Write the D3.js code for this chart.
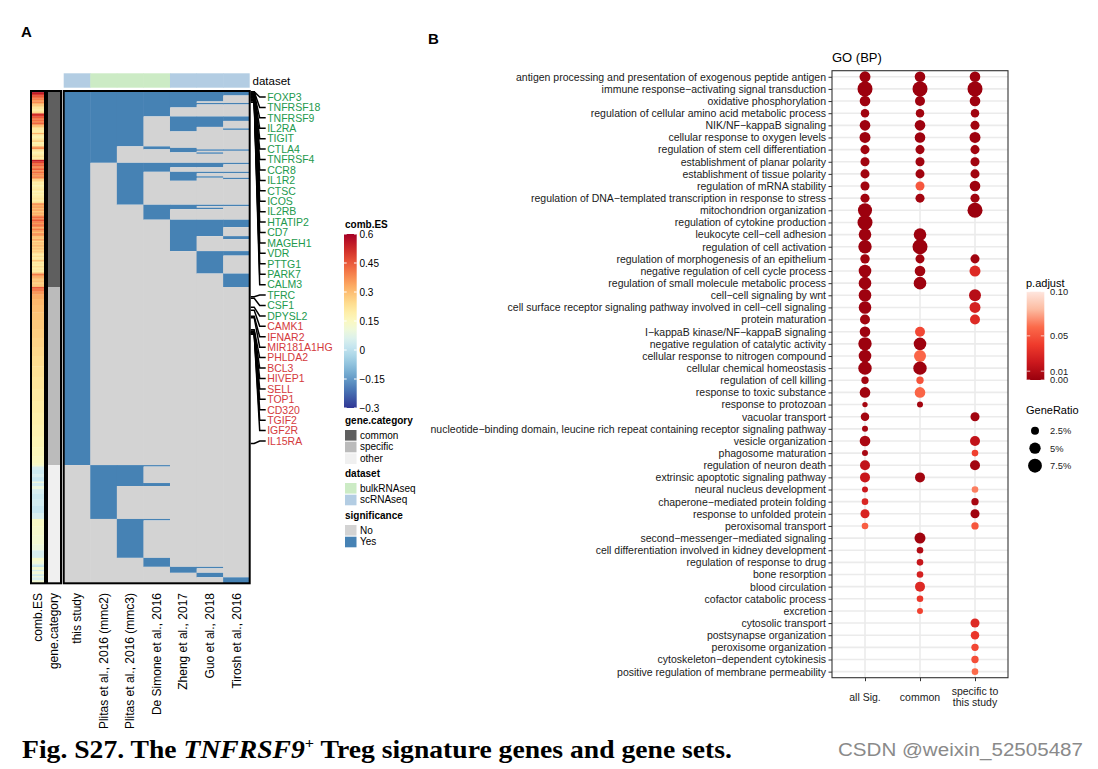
<!DOCTYPE html>
<html>
<head>
<meta charset="utf-8">
<script src="https://cdn.jsdelivr.net/npm/d3@7/dist/d3.min.js"></script>
<style>
html,body{margin:0;padding:0;background:#fff;}
svg{display:block;font-family:"Liberation Sans",Arial,Helvetica,sans-serif;}
</style>
</head>
<body>
<svg id="chart" width="1098" height="769"></svg>
<script>
// ================= Panel A data =================
const datasets = ["this study","Plitas et al., 2016 (mmc2)","Plitas et al., 2016 (mmc3)","De Simone et al., 2016","Zheng et al., 2017","Guo et al., 2018","Tirosh et al., 2016"];
const datasetType = ["scRNAseq","bulkRNAseq","bulkRNAseq","bulkRNAseq","scRNAseq","scRNAseq","scRNAseq"];
const datasetTypes = ["bulkRNAseq","scRNAseq"];
const significanceLevels = ["No","Yes"];
const geneCategories = ["common","specific","other"];
const categoryRuns = [["common",131],["specific",119],["other",79]];
// significance pattern (one char per dataset, 1 = Yes) and number of genes with it, top to bottom
const sigRuns = [
 ["1111111",3],["1111110",4],["1111100",1],["1111111",1],["1111100",2],
 ["1111000",6],
 ["1110111",3],["1110110",4],["1110100",1],["1110101",1],["1110100",1],
 ["1110000",10],
 ["1101000",1],["1101100",1],["1100111",1],["1100100",1],["1100010",1],["1100000",6],
 ["1011111",1],["1011110",2],["1011000",3],["1010111",1],["1010100",2],["1010110",1],["1010101",1],["1010100",1],["1010000",16],
 ["1001111",1],["1001100",1],["1001110",1],["1001000",7],
 ["1000111",5],["1000110",6],["1000101",2],["1000100",8],
 ["1000011",3],["1000010",12],["1000001",9],
 ["1000000",119],
 ["0111000",1],["0110000",11],["0111000",2],["0100000",22],
 ["0011000",1],["0010000",25],["0001000",6],
 ["0000110",1],["0000100",3],["0000010",3],["0000001",4]
];
// comb.ES of the common genes (one per row)
const esCommon = [0.58,0.55,0.5, 0.45,0.42,0.4, 0.35,0.38,0.32, 0.28,0.25,0.22,0.2,0.22,0.25,
 0.52,0.5, 0.45,0.4,0.42,0.38,0.44,0.36,0.3,
 0.25,0.22,0.2,0.2,0.32,0.2,0.18,0.2,0.22,0.28,0.18,0.2,0.2,
 0.35,0.38, 0.22,0.2,0.18,0.2,0.24,0.2,0.22, 0.55,0.5,
 0.42,0.45,0.38,0.4,0.44,0.36,0.42,0.38,0.35,0.4,0.33,
 0.26,0.22,0.2,0.2,0.18,0.2,0.22,0.2,0.18,0.2,0.19,0.2,0.22,0.21,0.2,0.24,
 0.38,0.32,0.36,0.3,0.35,0.28,0.33,0.3,0.36,
 0.42,0.38,0.45,0.4,0.36,0.42,0.38,0.33,0.4,0.36,0.3,0.38,0.35,
 0.3,0.28,0.35,0.25,0.3,0.27,0.32,0.26,0.3,0.25,0.28,
 0.22,0.2,0.24,0.2,0.22,0.3,0.2,0.22,0.2,0.25,0.2,0.22,0.2,0.26,
 0.4,0.36,0.32,0.3,0.28,0.3,0.26,0.28,0.3];
// comb.ES of specific and other genes as [value, number of genes]
const esSpecificRuns = [[0.45,1],[0.4,2],[0.36,2],[0.33,3],[0.31,4],[0.3,5],[0.29,5],[0.28,6],[0.27,6],[0.26,6],[0.25,6],[0.24,7],[0.23,7],[0.22,8],[0.21,8],[0.2,8],[0.19,8],[0.18,8],[0.17,7],[0.16,6],[0.15,5],[0.14,1]];
const esOtherRuns = [[0.12,1],[0.05,2],[0.03,3],[0.05,2],[0.02,3],[0.1,1],[0.04,2],
 [0.1,2],[0.05,3],[0.03,4],[0.04,4],[0.02,5],[0.05,4],
 [0.14,5],[0.13,6],[0.12,6],[0.1,4],[0.05,5],
 [0.13,2],[0.11,2],[0.06,1],[0.0,1],
 [0.12,2],[0.04,1],[0.11,2],[0.02,1],[0.1,1],
 [0.05,2],[0.12,2]];
const esBreaks = [0.6,0.45,0.3,0.15,0,-0.15,-0.3];
// marked genes, their heatmap row and label colour group
const markGenes = ["FOXP3","TNFRSF18","TNFRSF9","IL2RA","TIGIT","CTLA4","TNFRSF4","CCR8","IL1R2","CTSC","ICOS","IL2RB","HTATIP2","CD7","MAGEH1","VDR","PTTG1","PARK7","CALM3","TFRC","CSF1","DPYSL2","CAMK1","IFNAR2","MIR181A1HG","PHLDA2","BCL3","HIVEP1","SELL","TOP1","CD320","TGIF2","IGF2R","IL15RA"];
const markRows = [0,0,1,1,1,2,2,2,3,3,3,4,4,4,5,5,6,6,7,137,138,144,146,150,151,159,160,160,161,161,161,162,162,235];
const markGroup = ["g","g","g","g","g","g","g","g","g","g","g","g","g","g","g","g","g","g","g","g","g","g","r","r","r","r","r","r","r","r","r","r","r","r"];

// ================= Panel B data =================
const goTerms = ["antigen processing and presentation of exogenous peptide antigen","immune response−activating signal transduction","oxidative phosphorylation","regulation of cellular amino acid metabolic process","NIK/NF−kappaB signaling","cellular response to oxygen levels","regulation of stem cell differentiation","establishment of planar polarity","establishment of tissue polarity","regulation of mRNA stability","regulation of DNA−templated transcription in response to stress","mitochondrion organization","regulation of cytokine production","leukocyte cell−cell adhesion","regulation of cell activation","regulation of morphogenesis of an epithelium","negative regulation of cell cycle process","regulation of small molecule metabolic process","cell−cell signaling by wnt","cell surface receptor signaling pathway involved in cell−cell signaling","protein maturation","I−kappaB kinase/NF−kappaB signaling","negative regulation of catalytic activity","cellular response to nitrogen compound","cellular chemical homeostasis","regulation of cell killing","response to toxic substance","response to protozoan","vacuolar transport","nucleotide−binding domain, leucine rich repeat containing receptor signaling pathway","vesicle organization","phagosome maturation","regulation of neuron death","extrinsic apoptotic signaling pathway","neural nucleus development","chaperone−mediated protein folding","response to unfolded protein","peroxisomal transport","second−messenger−mediated signaling","cell differentiation involved in kidney development","regulation of response to drug","bone resorption","blood circulation","cofactor catabolic process","excretion","cytosolic transport","postsynapse organization","peroxisome organization","cytoskeleton−dependent cytokinesis","positive regulation of membrane permeability"];
const goGroups = ["all Sig.","common","specific to\nthis study"];
// GeneRatio (%) and p.adjust per group, null = not significant
const grAll = [4.7,8.8,4.4,2.8,4.4,4.7,3.2,3.2,3.2,3.2, 3.2,7.7,8.8,6.2,7.0,3.5,6.2,6.2,6.2,6.2, 3.9,4.4,7.0,6.2,7.0,2.1,4.4,1.1,2.8,1.4, 4.4,1.4,3.9,3.9,1.4,1.7,3.2,1.7,null,null, null,null,null,null,null,null,null,null,null,null];
const padjAll = [0.002,0.001,0.002,0.003,0.002,0.002,0.003,0.003,0.003,0.003, 0.003,0.001,0.001,0.002,0.001,0.003,0.002,0.002,0.002,0.002, 0.003,0.002,0.001,0.002,0.002,0.004,0.003,0.005,0.004,0.005, 0.007,0.006,0.016,0.019,0.02,0.028,0.027,0.055,null,null, null,null,null,null,null,null,null,null,null,null];
const grCommon = [4.4,8.8,3.9,2.8,4.4,4.4,3.2,3.2,3.2,3.2, 3.2,null,null,6.2,8.8,3.2,4.4,6.2,null,null, null,3.9,6.2,5.6,7.0,2.1,4.4,1.4,null,null, null,null,null,3.9,null,null,null,null,4.7,1.7, 1.7,1.7,3.9,1.7,1.4,null,null,null,null,null];
const padjCommon = [0.002,0.001,0.002,0.003,0.002,0.002,0.003,0.003,0.003,0.052, 0.004,null,null,0.002,0.001,0.003,0.003,0.002,null,null, null,0.045,0.002,0.058,0.002,0.05,0.058,0.004,null,null, null,null,null,0.004,null,null,null,null,0.003,0.01, 0.018,0.025,0.03,0.038,0.043,null,null,null,null,null];
const grSpecific = [4.4,8.8,4.4,2.8,3.2,4.7,3.2,3.2,3.2,4.4, 3.2,8.8,null,null,null,3.2,4.7,null,5.6,4.7, 3.9,null,null,null,null,null,null,null,3.2,null, 3.9,1.7,3.9,null,1.7,2.1,3.2,2.1,null,null, null,null,null,null,null,3.2,2.8,2.1,2.1,1.7];
const padjSpecific = [0.002,0.001,0.002,0.003,0.003,0.002,0.003,0.003,0.003,0.002, 0.003,0.001,null,null,null,0.003,0.03,null,0.012,0.025, 0.03,null,null,null,null,null,null,null,0.003,null, 0.016,0.042,0.004,null,0.065,0.006,0.003,0.052,null,null, null,null,null,null,null,0.03,0.037,0.045,0.048,0.06];
const padjBreaks = [0.10,0.05,0.01,0.00];
const grBreaks = [2.5,5,7.5];

// ================= drawing =================
const svg = d3.select("#chart");
svg.append("rect").attr("width",1098).attr("height",769).attr("fill","#fff");

const expandRuns = runs => runs.flatMap(([v,n]) => Array(n).fill(v));
function runsOf(arr){
  const out=[]; let s=0;
  for(let i=1;i<=arr.length;i++){ if(i===arr.length || arr[i]!==arr[s]){ out.push({start:s,end:i,v:arr[s]}); s=i; } }
  return out;
}
const sigRows = expandRuns(sigRuns);
const catRows = expandRuns(categoryRuns);
const esRows = esCommon.concat(expandRuns(esSpecificRuns), expandRuns(esOtherRuns));
const N = sigRows.length;

// ---- Panel A scales
const hmTop = 91, hmBottom = 583.3;
const yRow = d3.scaleBand().domain(d3.range(N)).range([hmTop, hmBottom]);
const bw = yRow.bandwidth();
const xData = d3.scaleBand().domain(datasets).range([63.7, 249.7]);
const esColor = d3.scaleSequential(d3.interpolateRdYlBu).domain([0.6,-0.3]);
const catColor = d3.scaleOrdinal().domain(geneCategories).range(["#5f5f5f","#bbbbbb","#f0f0f0"]);
const sigColor = d3.scaleOrdinal().domain(significanceLevels).range(["#d3d3d3","#4682b4"]);
const dsColor = d3.scaleOrdinal().domain(datasetTypes).range(["#ccebc5","#b3cde3"]);
const esX = [31, 45], catX = [47, 61];

const gA = svg.append("g");
gA.append("text").attr("x",21).attr("y",37).attr("font-weight","bold").attr("font-size",15).text("A");

// comb.ES column
gA.append("g").selectAll("rect").data(runsOf(esRows)).join("rect")
  .attr("x",esX[0]).attr("width",esX[1]-esX[0])
  .attr("y",d=>yRow(d.start)).attr("height",d=>(d.end-d.start)*bw+0.3)
  .attr("fill",d=>esColor(d.v));
// gene.category column
gA.append("g").selectAll("rect").data(runsOf(catRows)).join("rect")
  .attr("x",catX[0]).attr("width",catX[1]-catX[0])
  .attr("y",d=>yRow(d.start)).attr("height",d=>(d.end-d.start)*bw)
  .attr("fill",d=>catColor(d.v));
// main heatmap
datasets.forEach((ds,j)=>{
  const vals = sigRows.map(p => p[j]==="1" ? "Yes" : "No");
  gA.append("g").selectAll("rect").data(runsOf(vals)).join("rect")
    .attr("x",xData(ds)).attr("width",xData.bandwidth()+(j<datasets.length-1?0.5:0))
    .attr("y",d=>yRow(d.start)).attr("height",d=>(d.end-d.start)*bw)
    .attr("fill",d=>sigColor(d.v));
});
// dataset annotation
gA.append("g").selectAll("rect").data(datasets).join("rect")
  .attr("x",d=>xData(d)).attr("width",(d,i)=>xData.bandwidth()+(i<datasets.length-1?0.5:0))
  .attr("y",73.3).attr("height",14.4)
  .attr("fill",(d,i)=>dsColor(datasetType[i]));
gA.append("text").attr("x",252.5).attr("y",84.5).attr("font-size",11.5).attr("fill","#000").text("dataset");
// borders
[[esX[0],esX[1]],[catX[0],catX[1]],[xData.range()[0],xData.range()[1]]].forEach(([a,b])=>{
  gA.append("rect").attr("x",a).attr("y",hmTop).attr("width",b-a).attr("height",hmBottom-hmTop)
    .attr("fill","none").attr("stroke","#000").attr("stroke-width",2);
});
// bottom column names
const colNames = [{t:"comb.ES",x:(esX[0]+esX[1])/2},{t:"gene.category",x:(catX[0]+catX[1])/2}]
  .concat(datasets.map(d=>({t:d,x:xData(d)+xData.bandwidth()/2})));
gA.append("g").selectAll("text").data(colNames).join("text")
  .attr("transform",d=>`translate(${d.x},593) rotate(-90)`)
  .attr("text-anchor","end").attr("dy","0.35em").attr("font-size",12).attr("fill","#000")
  .text(d=>d.t);
// marks
const markY = d3.scalePoint().domain(markGenes).range([97,441]);
const hmRight = xData.range()[1]+1;
gA.append("g").selectAll("path").data(markGenes).join("path")
  .attr("d",(g,i)=>{const yr=yRow(markRows[i])+bw/2, yl=markY(g);
    return `M${hmRight},${yr}H${hmRight+3.5}L${hmRight+9},${yl}H${hmRight+15}`;})
  .attr("fill","none").attr("stroke","#000").attr("stroke-width",1.5);
gA.append("g").selectAll("text").data(markGenes).join("text")
  .attr("x",hmRight+16.5).attr("y",g=>markY(g)).attr("dy","0.36em")
  .attr("font-size",10.5).attr("fill",(g,i)=>markGroup[i]==="g"?"#22994d":"#d43a3d")
  .text(g=>g);

// ---- Panel A legends
const lg = svg.append("g").attr("font-size",10);
lg.append("text").attr("x",345).attr("y",228).attr("font-weight","bold").text("comb.ES");
const esL = d3.scaleLinear().domain([0.6,-0.3]).range([234,408]);
const defs = svg.append("defs");
const gradES = defs.append("linearGradient").attr("id","gES").attr("x1",0).attr("y1",0).attr("x2",0).attr("y2",1);
d3.range(0,1.0001,0.05).forEach(t=>gradES.append("stop").attr("offset",t).attr("stop-color",esColor(0.6-0.9*t)));
lg.append("rect").attr("x",344).attr("y",esL(0.6)).attr("width",12.7).attr("height",esL(-0.3)-esL(0.6)).attr("fill","url(#gES)");
esBreaks.forEach(b=>{
  lg.append("line").attr("x1",344).attr("x2",346.7).attr("y1",esL(b)).attr("y2",esL(b)).attr("stroke","#fff").attr("stroke-width",1);
  lg.append("line").attr("x1",354).attr("x2",356.7).attr("y1",esL(b)).attr("y2",esL(b)).attr("stroke","#fff").attr("stroke-width",1);
  lg.append("text").attr("x",359.5).attr("y",esL(b)).attr("dy","0.35em").text(String(b).replace("-","−"));
});
function discreteLegend(title, y0, items, color){
  lg.append("text").attr("x",345).attr("y",y0).attr("font-weight","bold").text(title);
  items.forEach((it,i)=>{
    const cy = y0+11+i*11.7;
    lg.append("rect").attr("x",345).attr("y",cy-5).attr("width",11.5).attr("height",10.6).attr("fill",color(it));
    lg.append("text").attr("x",360).attr("y",cy).attr("dy","0.35em").text(it);
  });
}
discreteLegend("gene.category",424,geneCategories,catColor);
discreteLegend("dataset",477,datasetTypes,dsColor);
discreteLegend("significance",519,significanceLevels,sigColor);

// ================= Panel B =================
const gB = svg.append("g");
gB.append("text").attr("x",428).attr("y",44).attr("font-weight","bold").attr("font-size",15).text("B");
const px0=832, px1=1008, py0=70.7, py1=677.7;
const yGo = d3.scalePoint().domain(goTerms).range([py0,py1]).padding(0.5);
const xGo = d3.scalePoint().domain(goGroups).range([px0,px1]).padding(0.6);
const rScale = d3.scaleSqrt().domain([0,10]).range([0,8]);
const pColor = d3.scaleLinear().domain([0,0.02,0.04,0.06,0.08,0.1])
  .range(["#99000d","#cb181d","#ef3b2c","#fb6a4a","#fcbba1","#fee6de"]);

gB.append("text").attr("x",px0).attr("y",61.5).attr("font-size",13).text("GO (BP)");
gB.append("rect").attr("x",px0).attr("y",py0).attr("width",px1-px0).attr("height",py1-py0).attr("fill","#fff");
gB.append("g").selectAll("line").data(goTerms).join("line")
  .attr("x1",px0).attr("x2",px1).attr("y1",d=>yGo(d)).attr("y2",d=>yGo(d))
  .attr("stroke","#ebebeb").attr("stroke-width",1.6);
gB.append("g").selectAll("line").data(goGroups).join("line")
  .attr("y1",py0).attr("y2",py1).attr("x1",d=>xGo(d)).attr("x2",d=>xGo(d))
  .attr("stroke","#ebebeb").attr("stroke-width",1.6);

const grByGroup = [grAll,grCommon,grSpecific], pByGroup = [padjAll,padjCommon,padjSpecific];
const dots = [];
goGroups.forEach((g,gi)=>goTerms.forEach((t,ti)=>{
  if(grByGroup[gi][ti]!=null) dots.push({g,t,gr:grByGroup[gi][ti],p:pByGroup[gi][ti]});
}));
gB.append("g").selectAll("circle").data(dots).join("circle")
  .attr("cx",d=>xGo(d.g)).attr("cy",d=>yGo(d.t)).attr("r",d=>rScale(d.gr)).attr("fill",d=>pColor(d.p));
gB.append("rect").attr("x",px0).attr("y",py0).attr("width",px1-px0).attr("height",py1-py0)
  .attr("fill","none").attr("stroke","#333").attr("stroke-width",1.1);

// y axis
const yAx = gB.append("g").attr("transform",`translate(${px0},0)`)
  .call(d3.axisLeft(yGo).tickSize(3.5).tickPadding(2.5));
yAx.select(".domain").remove();
yAx.selectAll("line").attr("stroke","#333");
yAx.selectAll("text").attr("font-size",10.5).attr("fill","#1a1a1a").attr("font-family","'Liberation Sans',Arial,sans-serif");
// x axis
const xAx = gB.append("g").attr("transform",`translate(0,${py1})`)
  .call(d3.axisBottom(xGo).tickSize(3.5).tickFormat(""));
xAx.select(".domain").remove();
xAx.selectAll("line").attr("stroke","#333");
goGroups.forEach(g=>{
  const lines = g.split("\n");
  const t = gB.append("text").attr("x",xGo(g)).attr("text-anchor","middle").attr("font-size",10.5).attr("fill","#1a1a1a");
  lines.forEach((l,i)=>t.append("tspan").attr("x",xGo(g)).attr("y",697+(i-(lines.length-1)/2)*11.6).attr("dy","0.35em").text(l));
});

// legends B
const lgB = svg.append("g");
lgB.append("text").attr("x",1026).attr("y",287).attr("font-size",11).text("p.adjust");
const pL = d3.scaleLinear().domain([0.1,0]).range([291.7,380]);
const gradP = defs.append("linearGradient").attr("id","gP").attr("x1",0).attr("y1",0).attr("x2",0).attr("y2",1);
d3.range(0,1.0001,0.05).forEach(t=>gradP.append("stop").attr("offset",t).attr("stop-color",pColor(0.1-0.1*t)));
lgB.append("rect").attr("x",1026.7).attr("y",pL(0.1)).attr("width",17.6).attr("height",pL(0)-pL(0.1)).attr("fill","url(#gP)");
padjBreaks.forEach(b=>{
  lgB.append("line").attr("x1",1026.7).attr("x2",1030.2).attr("y1",pL(b)).attr("y2",pL(b)).attr("stroke","#fff").attr("stroke-opacity",0.7);
  lgB.append("line").attr("x1",1040.8).attr("x2",1044.3).attr("y1",pL(b)).attr("y2",pL(b)).attr("stroke","#fff").attr("stroke-opacity",0.7);
  lgB.append("text").attr("x",1050).attr("y",pL(b)).attr("dy","0.36em").attr("font-size",9.3).attr("fill","#1a1a1a").text(b.toFixed(2));
});
lgB.append("text").attr("x",1026).attr("y",414).attr("font-size",11).text("GeneRatio");
grBreaks.forEach((b,i)=>{
  const cy = 430.7 + i*17.5;
  lgB.append("circle").attr("cx",1035).attr("cy",cy).attr("r",rScale(b)).attr("fill","#000");
  lgB.append("text").attr("x",1050).attr("y",cy).attr("dy","0.36em").attr("font-size",9.3).attr("fill","#1a1a1a").text(b+"%");
});

// ================= caption & watermark =================
const cap = svg.append("text").attr("x",22).attr("y",758)
  .attr("font-family","'Liberation Serif','Times New Roman',serif").attr("font-weight","bold").attr("font-size",25.5).attr("fill","#000")
  .attr("textLength",710).attr("lengthAdjust","spacingAndGlyphs");
cap.append("tspan").text("Fig. S27. The ");
cap.append("tspan").attr("font-style","italic").text("TNFRSF9");
cap.append("tspan").attr("font-size",15).attr("dy",-10).text("+");
cap.append("tspan").attr("dy",10).text(" Treg signature genes and gene sets.");
svg.append("text").attr("x",838).attr("y",756).attr("font-size",18).attr("fill","#8a8a8a")
  .attr("textLength",245).attr("lengthAdjust","spacingAndGlyphs").text("CSDN @weixin_52505487");
</script>
</body>
</html>
